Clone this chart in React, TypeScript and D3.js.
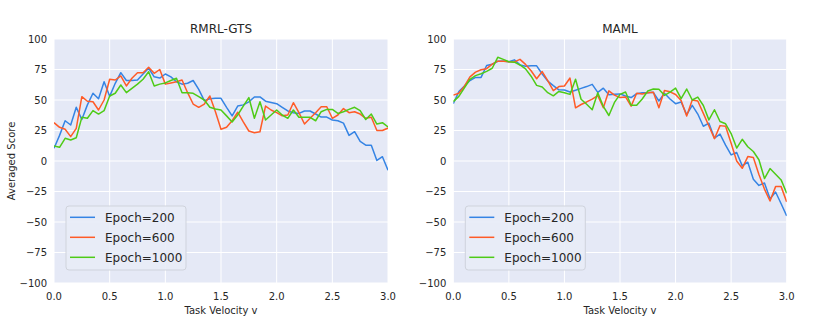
import React from "react";
import * as d3 from "d3";

const velocity = [
  0.0, 0.05, 0.1, 0.15, 0.2, 0.25, 0.3, 0.35, 0.4, 0.45,
  0.5, 0.55, 0.6, 0.65, 0.7, 0.75, 0.8, 0.85, 0.9, 0.95,
  1.0, 1.05, 1.1, 1.15, 1.2, 1.25, 1.3, 1.35, 1.4, 1.45,
  1.5, 1.55, 1.6, 1.65, 1.7, 1.75, 1.8, 1.85, 1.9, 1.95,
  2.0, 2.05, 2.1, 2.15, 2.2, 2.25, 2.3, 2.35, 2.4, 2.45,
  2.5, 2.55, 2.6, 2.65, 2.7, 2.75, 2.8, 2.85, 2.9, 2.95,
  3.0,
];

const rmrlEpoch200 = [
  10.4, 21, 33, 29.5, 44, 34, 46, 55.5, 51, 65,
  53, 63.7, 72.4, 66, 66, 66.4, 71.3, 76, 69, 68,
  71.3, 69, 65, 63, 63.7, 66, 58.7, 49.5, 51, 51.4,
  51.4, 44, 37, 45, 46, 48.5, 52.5, 52.5, 49, 48,
  47, 44, 41, 39.6, 39, 41, 41, 38.5, 36, 36,
  33.6, 33, 31, 21, 24, 16, 13, 13, 0.5, 3.5,
  -7.5,
];
const rmrlEpoch600 = [
  31.4, 27.6, 26, 20, 26.8, 52.7, 49, 48.6, 41.8, 50,
  67, 66.4, 69.7, 61.5, 67.8, 72.4, 72.4, 76.8, 71.9, 75,
  63, 64, 65, 66.4, 56, 46.7, 44, 46.7, 53.3, 40.4,
  26, 27.6, 33, 40, 32, 24.6, 23.2, 24, 45, 41.8,
  39.6, 37, 37.7, 47.8, 39.6, 30.3, 35, 39.6, 44.5, 44.5,
  35, 37.7, 43, 39.6, 40.4, 38.5, 35, 35.8, 25, 25,
  27,
];
const rmrlEpoch1000 = [
  12.3, 11.2, 18.6, 17.2, 19, 35.8, 35, 41.3, 38.5, 41.3,
  53.3, 55.5, 62.3, 56, 59.6, 63, 67, 73.2, 61.5, 63,
  64, 66, 67.8, 56, 56, 55.5, 52.7, 50, 44, 42.6,
  41.8, 37, 32, 37.7, 45, 52, 35, 48.6, 33.6, 37.7,
  41.8, 37.7, 35, 41.8, 35.8, 35.8, 35.8, 33, 40.4, 42.3,
  42.3, 39, 40.4, 42.3, 44, 41.3, 34, 38.5, 30.3, 31.4,
  28,
];

const mamlEpoch200 = [
  47, 57, 61.5, 66, 68.5, 68.5, 78.3, 79.3, 81.7, 82,
  81.4, 82.9, 78.8, 77.6, 78, 78, 71.3, 65.5, 61.8, 58.3,
  58.2, 56.5, 58, 59.5, 61, 62.8, 56.3, 59.7, 54.3, 54.8,
  55, 53.3, 52, 55.2, 56, 56, 56.3, 49.2, 55.5, 50.8,
  47, 48.4, 38, 45.6, 38.5, 28.5, 31, 18.8, 22, 13,
  5, 7, -4, -1, -15, -20, -18, -31, -25.4, -35,
  -45,
];
const mamlEpoch600 = [
  54, 55.5, 61.3, 69, 72.8, 74.8, 75.7, 79.4, 81.8, 81.8,
  81.4, 81.2, 83.3, 79.2, 74, 67.4, 73.3, 65.8, 57.7, 61,
  61.5, 68, 43.6, 46.3, 48.4, 50.7, 53.5, 43.6, 57.5, 54,
  52, 52.5, 45, 55.5, 55, 56, 56.3, 43.7, 57.7, 56.7,
  54.5, 49.5, 36.9, 50, 49.2, 39, 28.7, 18.3, 29, 28.4,
  14.5, 0, -6, 3.6, 2.8, -11, -23, -32.8, -21, -21,
  -33.5,
];
const mamlEpoch1000 = [
  48.7, 53, 60, 67, 70, 71.5, 73.5, 76, 85, 83.3,
  81.4, 81, 78.7, 75.5, 69.5, 62, 60.7, 56, 53.4, 57,
  56, 54.6, 67, 50.6, 46.5, 42, 56, 44.8, 37.3, 48,
  54.6, 56.6, 45.7, 45.7, 50.8, 57.4, 59, 58.8, 53.8, 56.5,
  59.7, 51.1, 59, 50, 52.4, 45.5, 33.7, 42, 32.4, 30.5,
  22.5, 10.6, 17.8, 11.7, 7.8, 1, -14.4, -6.2, -10.8, -15.5,
  -26.5,
];

const seriesNames = ["Epoch=200", "Epoch=600", "Epoch=1000"];
const seriesColors = ["#3584e4", "#ff5b27", "#4ecb17"];
const panelTitles = ["RMRL-GTS", "MAML"];
const xTicks = [0, 0.5, 1.0, 1.5, 2.0, 2.5, 3.0];
const yTicks = [-100, -75, -50, -25, 0, 25, 50, 75, 100];

const panels = [
  { title: panelTitles[0], series: [rmrlEpoch200, rmrlEpoch600, rmrlEpoch1000], left: 54, right: 388 },
  { title: panelTitles[1], series: [mamlEpoch200, mamlEpoch600, mamlEpoch1000], left: 453.3, right: 786.7 },
];

const TOP = 39;
const BOTTOM = 283;
const FONT = "DejaVu Sans, sans-serif";

function Panel({ title, series, left, right, showYLabel }: any) {
  const x = d3.scaleLinear().domain([0, 3]).range([left, right]);
  const y = d3.scaleLinear().domain([-100, 100]).range([BOTTOM, TOP]);
  const fmtY = (v: number) => String(v).replace("-", "\u2212");
  const lineGen = (vals: number[]) =>
    d3
      .line<number>()
      .x((_, i) => x(velocity[i]))
      .y((d) => y(d))(vals) || "";
  const clipId = "clip-" + title.replace(/[^a-zA-Z]/g, "");
  return (
    <g>
      <defs>
        <clipPath id={clipId}>
          <rect x={left} y={TOP} width={right - left} height={BOTTOM - TOP} />
        </clipPath>
      </defs>
      <rect x={left} y={TOP} width={right - left} height={BOTTOM - TOP} fill="#e5e9f6" />
      {xTicks.map((t) => (
        <line key={"gx" + t} x1={x(t)} x2={x(t)} y1={TOP} y2={BOTTOM} stroke="#ffffff" strokeWidth={1} />
      ))}
      {yTicks.map((t) => (
        <line key={"gy" + t} x1={left} x2={right} y1={y(t)} y2={y(t)} stroke="#ffffff" strokeWidth={1} />
      ))}
      <g clipPath={`url(#${clipId})`}>
        {series.map((vals: number[], k: number) => (
          <path key={k} d={lineGen(vals)} fill="none" stroke={seriesColors[k]} strokeWidth={1.5} strokeLinejoin="round" />
        ))}
      </g>
      {xTicks.map((t) => (
        <text key={"tx" + t} x={x(t)} y={300} textAnchor="middle" fontSize={10} fontFamily={FONT} fill="#262626">
          {t.toFixed(1)}
        </text>
      ))}
      {yTicks.map((t) => (
        <text key={"ty" + t} x={left - 7} y={y(t) + 3.6} textAnchor="end" fontSize={10} fontFamily={FONT} fill="#262626">
          {fmtY(t)}
        </text>
      ))}
      <text x={(left + right) / 2} y={33} textAnchor="middle" fontSize={12} fontFamily={FONT} fill="#262626">
        {title}
      </text>
      <text x={(left + right) / 2} y={313.5} textAnchor="middle" fontSize={10} fontFamily={FONT} fill="#262626">
        Task Velocity v
      </text>
      {showYLabel && (
        <text transform={`translate(14.5,${(TOP + BOTTOM) / 2}) rotate(-90)`} textAnchor="middle" fontSize={10} fontFamily={FONT} fill="#262626">
          Averaged Score
        </text>
      )}
      <g>
        <rect x={left + 12} y={206} width={120} height={64} rx={3} fill="#e8ecf7" fillOpacity={0.9} stroke="#cfd3dc" strokeWidth={1} />
        {seriesNames.map((name, k) => (
          <g key={name}>
            <line x1={left + 16} x2={left + 41} y1={217.3 + k * 20} y2={217.3 + k * 20} stroke={seriesColors[k]} strokeWidth={1.5} />
            <text x={left + 51} y={217.3 + k * 20 + 4.3} fontSize={12} fontFamily={FONT} fill="#262626">
              {name}
            </text>
          </g>
        ))}
      </g>
    </g>
  );
}

export default function App() {
  return (
    <svg
      width={831}
      height={324}
      viewBox="0 0 831 324"
      style={{ position: "absolute", left: 0, top: 0, background: "#ffffff" }}
    >
      <rect x={0} y={0} width={831} height={324} fill="#ffffff" />
      {panels.map((p, i) => (
        <Panel key={p.title} {...p} showYLabel={i === 0} />
      ))}
    </svg>
  );
}
